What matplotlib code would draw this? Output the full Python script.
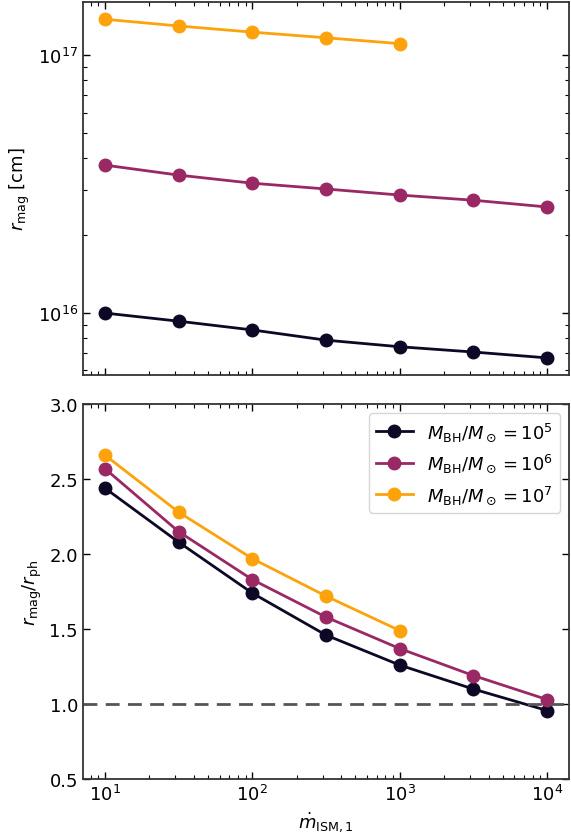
import numpy as np
import matplotlib
matplotlib.use('Agg')
from matplotlib import pyplot

mdot = [10, 31.6, 100, 316, 1000, 3162, 10000]

labels = [r'$M_{\rm BH}/M_\odot = 10^5$',
          r'$M_{\rm BH}/M_\odot = 10^6$',
          r'$M_{\rm BH}/M_\odot = 10^7$']
colors = ['#0c0826', '#9a2865', '#fca30c']

# magnetization radius [cm]
rmag_5 = [1.0e16, 9.3e15, 8.6e15, 7.85e15, 7.4e15, 7.06e15, 6.7e15]
rmag_6 = [3.75e16, 3.43e16, 3.19e16, 3.03e16, 2.87e16, 2.74e16, 2.58e16]
rmag_7 = [1.38e17, 1.30e17, 1.23e17, 1.17e17, 1.11e17]

# ratio r_mag / r_ph
ratio_5 = [2.44, 2.08, 1.74, 1.46, 1.26, 1.10, 0.957]
ratio_6 = [2.57, 2.15, 1.83, 1.58, 1.37, 1.19, 1.03]
ratio_7 = [2.66, 2.28, 1.97, 1.72, 1.49]

pyplot.rc('font', size=13)
fig = pyplot.figure(figsize=(5.71, 8.37), dpi=100)
ax1 = fig.add_axes([0.145, 0.551, 0.852, 0.445])
ax2 = fig.add_axes([0.145, 0.068, 0.852, 0.448], sharex=ax1)

style = dict(marker='o', markersize=9, linewidth=2)
for rmag, c in zip([rmag_5, rmag_6, rmag_7], colors):
    ax1.plot(mdot[:len(rmag)], rmag, color=c, **style)
for ratio, c, lab in zip([ratio_5, ratio_6, ratio_7], colors, labels):
    ax2.plot(mdot[:len(ratio)], ratio, color=c, label=lab, **style)

ax2.axhline(1.0, color='#555555', linestyle='--', linewidth=2, dashes=(5, 3))

ax1.set_xscale('log')
ax1.set_yscale('log')
ax1.set_ylabel(r'$r_{\rm mag}$ [cm]')
ax1.tick_params(labelbottom=False)

ax2.set_ylim(0.5, 3.0)
ax2.set_ylabel(r'$r_{\rm mag}/r_{\rm ph}$')
ax2.set_xlabel(r'$\dot{m}_{\rm ISM,1}$')
ax2.legend(loc='upper right', fontsize=13)

for ax in (ax1, ax2):
    ax.tick_params(which='both', direction='in', top=True, right=True)
    ax.tick_params(which='major', length=5, width=1)
    ax.tick_params(which='minor', length=3, width=0.8)
    for s in ax.spines.values():
        s.set_linewidth(1.3)
        s.set_color('#333333')

fig.savefig('out.png', dpi=100)
